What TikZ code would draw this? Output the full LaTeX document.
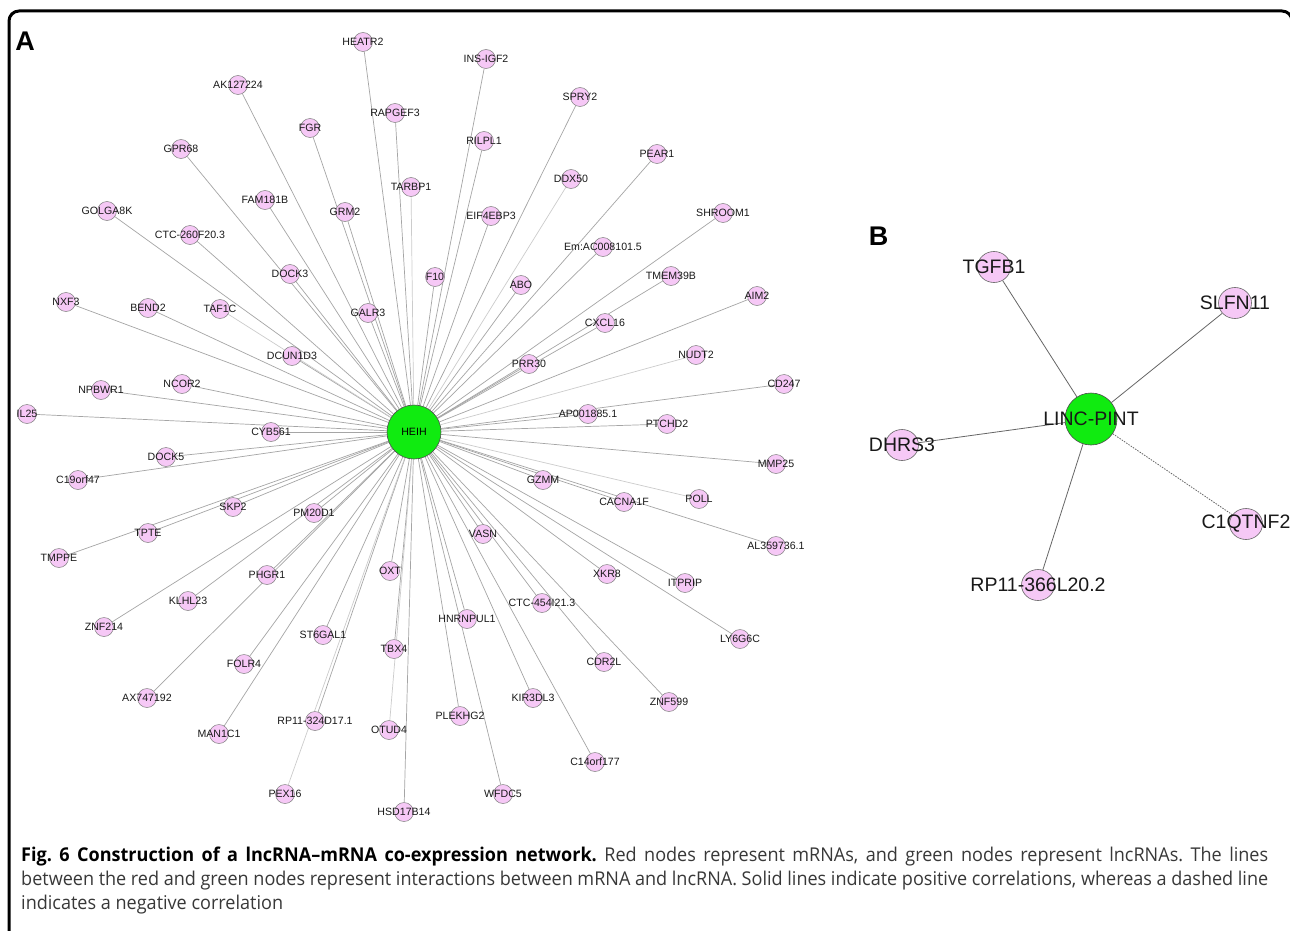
\documentclass[tikz,border=0pt]{standalone}
\usepackage{fontspec}
\setmainfont{Liberation Sans}
\newfontfamily\capfont[FakeStretch=0.95]{Open Sans}
\usetikzlibrary{backgrounds,shapes.geometric}
\definecolor{pinkfill}{RGB}{246,200,246}
\definecolor{nodegreen}{RGB}{16,235,16}
\definecolor{edgegrey}{RGB}{165,165,165}
\frenchspacing
\begin{document}
\begin{tikzpicture}[x=1pt,y=-1pt,
  mnode/.style={circle,draw=black!50,fill=pinkfill,minimum size=19pt,inner sep=0pt,line width=0.5pt},
  hub/.style={circle,draw=black!70,fill=nodegreen,minimum size=54pt,inner sep=0pt,line width=0.6pt,font=\fontsize{10.6}{12}\selectfont},
  mlab/.style={font=\fontsize{10.6}{12}\selectfont,text=black!90,inner sep=0pt},
  bnode/.style={ellipse,draw=black!60,fill=pinkfill,minimum width=33pt,minimum height=31pt,inner sep=0pt,line width=0.6pt},
  bhub/.style={circle,draw=black!70,fill=nodegreen,minimum size=52pt,inner sep=0pt,line width=0.6pt},
  blab/.style={font=\fontsize{19.5}{22}\selectfont,text=black!90,inner sep=0pt},
  edge/.style={draw=edgegrey,line width=0.7pt},
  lightedge/.style={draw=black!20,line width=0.7pt},
  bedge/.style={draw=black!60,line width=0.8pt},
  negedge/.style={bedge,dash pattern=on 1.5pt off 1.2pt},
  panel/.style={font=\bfseries\fontsize{27}{30}\selectfont,inner sep=0pt},
  capline/.style={anchor=base west,inner sep=0pt,font=\capfont\fontsize{19}{22}\selectfont,text=black!78},
]
\useasboundingbox (0,0) rectangle (1290,931);
\clip (0,0) rectangle (1290,931);
\begin{scope}[on background layer]
\fill[white] (0,0) rectangle (1290,931);
\end{scope}
\draw[line width=3pt,rounded corners=10pt] (9,11) rectangle (1292,950);

% panel labels
\node[panel] (labA) at (25,41) {A};
\node[panel] (labB) at (878.5,236.5) {B};

% ---- panel A ----
\node[hub] (HEIH) at (414,432) {HEIH};
\foreach \n/\x/\y/\t in {
HEATR2/363/42/HEATR2, INSIGF2/486/59/INS-IGF2, AK127224/238/85/AK127224,
RAPGEF3/395/113/RAPGEF3, SPRY2/580/97/SPRY2, FGR/310/128/FGR,
RILPL1/484/141/RILPL1, GPR68/181/149/GPR68, PEAR1/657/154/PEAR1,
DDX50/571/179/DDX50, TARBP1/411/187/TARBP1, FAM181B/265/200/FAM181B,
GRM2/345/212/GRM2, GOLGA8K/107/211/GOLGA8K, EIF4EBP3/491/216/EIF4EBP3,
SHROOM1/723/213/SHROOM1, CTC260/190/235/CTC-260F20.3, EmAC/603/247/Em:AC008101.5,
DOCK3/290/274/DOCK3, F10/435/277/F10, TMEM39B/671/276/TMEM39B,
ABO/521/285/ABO, AIM2/757/296/AIM2, NXF3/66/302/NXF3,
BEND2/148/308/BEND2, TAF1C/220/309/TAF1C, GALR3/368/313/GALR3,
CXCL16/605/323/CXCL16, DCUN1D3/292/356/DCUN1D3, NUDT2/696/355/NUDT2,
PRR30/529/364/PRR30, CD247/784/384/CD247, NCOR2/182/384/NCOR2,
NPBWR1/101/390/NPBWR1, IL25/27/414/IL25, AP001885/588/414/AP001885.1,
PTCHD2/667/424/PTCHD2, CYB561/271/432/CYB561, DOCK5/166/457/DOCK5,
MMP25/776/464/MMP25, C19orf47/78/480/C19orf47, GZMM/543/480/GZMM,
POLL/699/499/POLL, CACNA1F/624/502/CACNA1F, SKP2/233/507/SKP2,
PM20D1/314/513/PM20D1, TPTE/148/533/TPTE, VASN/483/534/VASN,
AL359736/776/546/AL359736.1, TMPPE/59/558/TMPPE, OXT/390/571/OXT,
XKR8/607/574/XKR8, PHGR1/267/575/PHGR1, ITPRIP/685/583/ITPRIP,
KLHL23/188/601/KLHL23, CTC454/542/603/CTC-454I21.3, HNRNPUL1/467/619/HNRNPUL1,
ZNF214/104/627/ZNF214, ST6GAL1/323/635/ST6GAL1, LY6G6C/740/639/LY6G6C,
TBX4/394/649/TBX4, CDR2L/604/662/CDR2L, FOLR4/244/664/FOLR4,
AX747192/147/698/AX747192, KIR3DL3/533/698/KIR3DL3, ZNF599/669/702/ZNF599,
PLEKHG2/460/716/PLEKHG2, RP11324/315/721/RP11-324D17.1, OTUD4/389/730/OTUD4,
MAN1C1/219/734/MAN1C1, C14orf177/595/762/C14orf177, PEX16/285/794/PEX16,
WFDC5/503/794/WFDC5, HSD17B14/404/812/HSD17B14}{
  \node[mnode,label={[mlab]center:\t}] (\n) at (\x,\y) {};
}
\begin{scope}[on background layer]
\foreach \n in {HEATR2,INSIGF2,AK127224,RAPGEF3,SPRY2,FGR,RILPL1,GPR68,PEAR1,
FAM181B,GRM2,GOLGA8K,EIF4EBP3,SHROOM1,CTC260,EmAC,DOCK3,F10,TMEM39B,ABO,AIM2,
NXF3,BEND2,GALR3,CXCL16,DCUN1D3,PRR30,CD247,NCOR2,NPBWR1,IL25,AP001885,PTCHD2,
CYB561,DOCK5,MMP25,C19orf47,GZMM,CACNA1F,SKP2,PM20D1,TPTE,VASN,AL359736,TMPPE,
OXT,XKR8,PHGR1,ITPRIP,KLHL23,CTC454,HNRNPUL1,ZNF214,ST6GAL1,LY6G6C,TBX4,CDR2L,
FOLR4,AX747192,KIR3DL3,ZNF599,PLEKHG2,RP11324,MAN1C1,C14orf177,WFDC5,HSD17B14}
  \draw[edge] (HEIH) -- (\n);
\foreach \n in {TARBP1,DDX50,TAF1C,NUDT2,POLL,PEX16,OTUD4}
  \draw[lightedge] (HEIH) -- (\n);
\end{scope}

% ---- panel B ----
\node[bhub,label={[blab]center:LINC-PINT}] (PINT) at (1091,419) {};
\node[bnode,label={[blab]center:TGFB1}] (TGFB1) at (994,267) {};
\node[bnode,label={[blab]center:SLFN11}] (SLFN11) at (1235,303) {};
\node[bnode,label={[blab]center:DHRS3}] (DHRS3) at (902,445) {};
\node[bnode,label={[blab]center:C1QTNF2}] (C1QTNF2) at (1246,524) {};
\node[bnode,label={[blab]center:RP11-366L20.2}] (RP11366) at (1038,585) {};
\begin{scope}[on background layer]
\draw[bedge] (PINT) -- (TGFB1);
\draw[bedge] (PINT) -- (SLFN11);
\draw[bedge] (PINT) -- (DHRS3);
\draw[bedge] (PINT) -- (RP11366);
\draw[negedge] (PINT) -- (C1QTNF2);
\end{scope}

% ---- caption ----
\node[capline] (cap1) at (21,861) {\makebox[1247pt][s]{\textbf{\color{black}Fig.\ 6 Construction of a lncRNA–mRNA co-expression network.} Red nodes represent mRNAs, and green nodes represent lncRNAs. The lines}};
\node[capline] (cap2) at (21,885) {\makebox[1247pt][s]{between the red and green nodes represent interactions between mRNA and lncRNA. Solid lines indicate positive correlations, whereas a dashed line}};
\node[capline] (cap3) at (21,909) {indicates a negative correlation};
\end{tikzpicture}
\end{document}
